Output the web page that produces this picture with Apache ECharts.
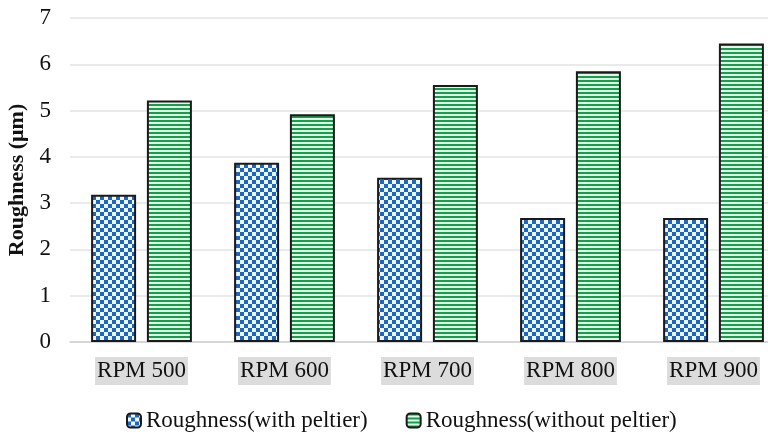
<!DOCTYPE html>
<html>
<head>
<meta charset="utf-8">
<script src="https://cdn.jsdelivr.net/npm/echarts@6/dist/echarts.min.js"></script>
<style>
html,body{margin:0;padding:0;background:#fff;}
#chart{width:768px;height:432px;}
</style>
</head>
<body>
<div id="chart"></div>
<script>
var categories = ['RPM 500', 'RPM 600', 'RPM 700', 'RPM 800', 'RPM 900'];
var withPeltier = [3.18, 3.87, 3.55, 2.68, 2.68];
var withoutPeltier = [5.22, 4.92, 5.55, 5.85, 6.45];
var seriesNames = ['Roughness(with peltier)', 'Roughness(without peltier)'];
var yTicks = [0, 1, 2, 3, 4, 5, 6, 7];

function checker() {
  var c = document.createElement('canvas');
  c.width = 8; c.height = 8;
  var g = c.getContext('2d');
  g.fillStyle = '#eef7ff'; g.fillRect(0, 0, 8, 8);
  g.fillStyle = '#1a68c4';
  g.fillRect(0, 0, 4, 4); g.fillRect(4, 4, 4, 4);
  return c;
}
function stripes() {
  var c = document.createElement('canvas');
  c.width = 4; c.height = 4;
  var g = c.getContext('2d');
  g.fillStyle = '#e4f6e9'; g.fillRect(0, 0, 4, 4);
  g.fillStyle = '#12a048'; g.fillRect(0, 0, 4, 2);
  return c;
}
var serif = '"Liberation Serif", "DejaVu Serif", serif';
var chart = echarts.init(document.getElementById('chart'));
chart.setOption({
  animation: false,
  backgroundColor: '#fff',
  grid: { left: 70, top: 18, bottom: 90, width: 715, containLabel: false, outerBoundsMode: 'none' },
  legend: {
    left: 121, top: 404,
    itemWidth: 14, itemHeight: 14, itemGap: 38,
    textStyle: { fontFamily: serif, fontSize: 23, color: '#111' },
    data: seriesNames
  },
  xAxis: {
    type: 'category',
    data: categories,
    axisLine: { lineStyle: { color: '#d0d0d0', width: 1.5 } },
    axisTick: { show: false },
    axisLabel: {
      fontFamily: serif, fontSize: 23, color: '#111', margin: 15,
      backgroundColor: '#dcdcdc', padding: [3, 2, 3, 2], lineHeight: 22
    }
  },
  yAxis: {
    type: 'value', min: 0, max: 7, interval: 1,
    name: 'Roughness (μm)', nameLocation: 'middle', nameGap: 39,
    nameTextStyle: { fontFamily: serif, fontSize: 22, fontWeight: 'bold', color: '#111' },
    axisLine: { show: false }, axisTick: { show: false },
    axisLabel: { fontFamily: serif, fontSize: 23, color: '#111', margin: 19,
      formatter: function (v) { return yTicks.indexOf(v) >= 0 ? String(v) : ''; } },
    splitLine: { lineStyle: { color: '#e3e3e3', width: 1.5 } }
  },
  series: [
    {
      name: seriesNames[0], type: 'bar', data: withPeltier,
      barWidth: 45, barGap: '24%',
      itemStyle: { color: { image: checker(), repeat: 'repeat' }, borderColor: '#1a1a1a', borderWidth: 2 }
    },
    {
      name: seriesNames[1], type: 'bar', data: withoutPeltier,
      barWidth: 45,
      itemStyle: { color: { image: stripes(), repeat: 'repeat' }, borderColor: '#1a1a1a', borderWidth: 2 }
    }
  ]
});
</script>
</body>
</html>
